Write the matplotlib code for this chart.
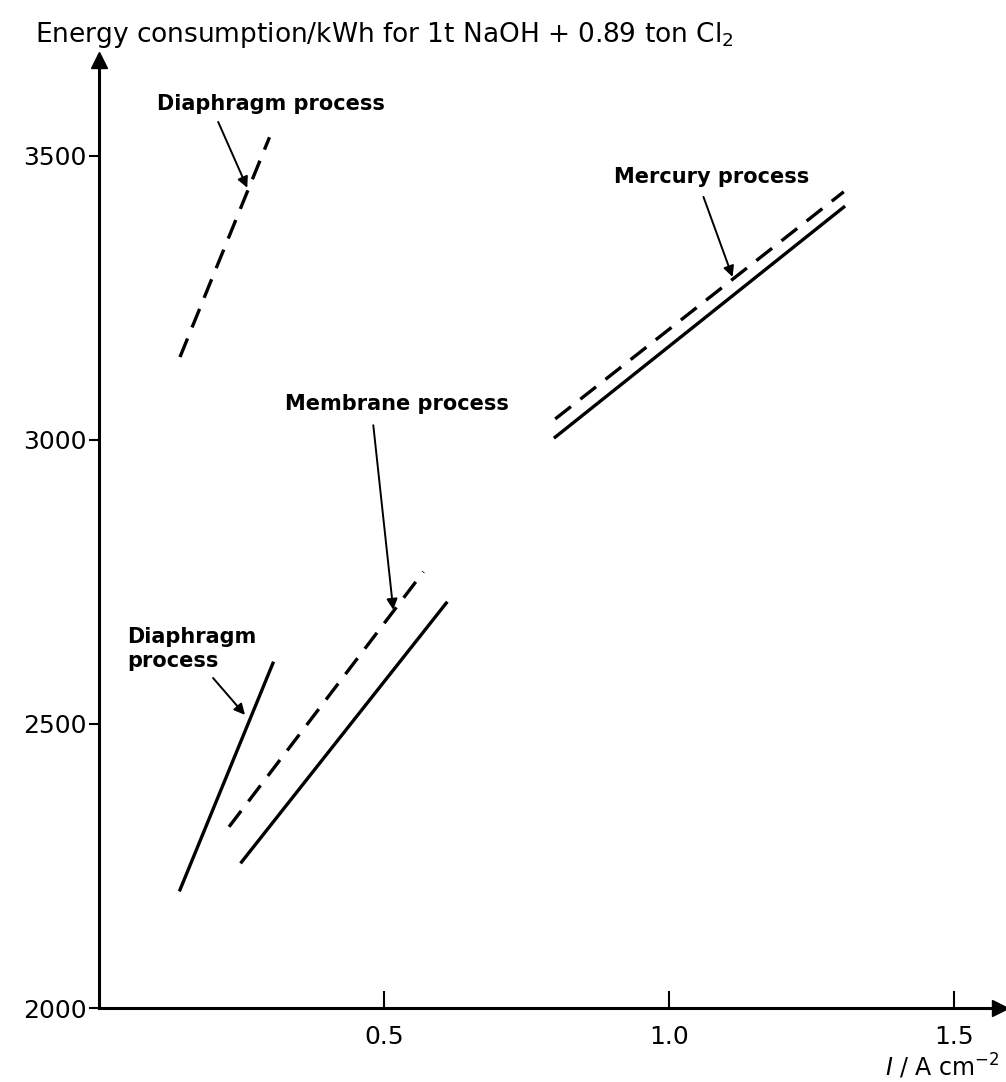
"""Energy consumption of chlor-alkali processes vs current density (line sketch)."""

import matplotlib
matplotlib.use("Agg")
import matplotlib.pyplot as plt

# end points of each line: current density (A cm^-2) and energy (kWh)
dia_dash_x = [0.142, 0.299]
dia_dash_y = [3146, 3533]
dia_solid_x = [0.142, 0.305]
dia_solid_y = [2208, 2607]
mem_dash_x = [0.228, 0.569]
mem_dash_y = [2319, 2768]
mem_solid_x = [0.250, 0.609]
mem_solid_y = [2257, 2713]
hg_dash_x = [0.800, 1.306]
hg_dash_y = [3037, 3437]
hg_solid_x = [0.800, 1.306]
hg_solid_y = [3005, 3410]

xticks = [0.5, 1.0, 1.5]
xticklabels = ["0.5", "1.0", "1.5"]
yticks = [2000, 2500, 3000, 3500]

W, H = 1006, 1082
fig = plt.figure(figsize=(W / 100, H / 100), dpi=100)
ax = fig.add_axes([99 / W, 74 / H, 901 / W, 948 / H])
ax.set_xlim(0, 1.58)
ax.set_ylim(2000, 3669)

for s in ("top", "right"):
    ax.spines[s].set_visible(False)
for s in ("left", "bottom"):
    ax.spines[s].set_linewidth(2.2)

# axis arrows
ax.plot(1, 0, ">k", ms=11, transform=ax.transAxes, clip_on=False)
ax.plot(0, 1, "^k", ms=11, transform=ax.transAxes, clip_on=False)

ax.set_xticks(xticks)
ax.set_xticklabels(xticklabels)
ax.set_yticks(yticks)
ax.tick_params(axis="x", direction="in", length=12, width=1.5, labelsize=18, pad=12)
ax.tick_params(axis="y", direction="out", length=7, width=1.5, labelsize=18, pad=2)

lw = 2.4
dash = (0, (6, 3.6))
ax.plot(dia_dash_x, dia_dash_y, color="k", lw=lw, linestyle=dash)
ax.plot(dia_solid_x, dia_solid_y, color="k", lw=lw)
ax.plot(mem_dash_x, mem_dash_y, color="k", lw=lw, linestyle=dash)
ax.plot(mem_solid_x, mem_solid_y, color="k", lw=lw)
ax.plot(hg_dash_x, hg_dash_y, color="k", lw=lw, linestyle=dash)
ax.plot(hg_solid_x, hg_solid_y, color="k", lw=lw)

arrow = dict(arrowstyle="-|>", color="k", lw=1.4, mutation_scale=16, shrinkA=0, shrinkB=0)
lab = dict(fontsize=15, color="k", fontweight="semibold")

ax.text(0.302, 3592, "Diaphragm process", ha="center", va="center", **lab)
ax.annotate("", xy=(0.260, 3444), xytext=(0.209, 3560), arrowprops=arrow)

ax.text(1.075, 3463, "Mercury process", ha="center", va="center", **lab)
ax.annotate("", xy=(1.111, 3287), xytext=(1.060, 3428), arrowprops=arrow)

ax.text(0.523, 3063, "Membrane process", ha="center", va="center", **lab)
ax.annotate("", xy=(0.516, 2701), xytext=(0.481, 3026), arrowprops=arrow)

ax.text(0.05, 2632, "Diaphragm\nprocess", ha="left", va="center",
        linespacing=1.2, **lab)
ax.annotate("", xy=(0.256, 2516), xytext=(0.200, 2581), arrowprops=arrow)

fig.text(35 / W, 1 - 35 / H,
         r"Energy consumption/kWh for 1t NaOH + 0.89 ton Cl$_2$",
         ha="left", va="center", fontsize=19)
fig.text(1000 / W, 1 - 1066 / H, r"$I$ / A cm$^{-2}$",
         ha="right", va="center", fontsize=17)

fig.savefig("out.png", dpi=100)
